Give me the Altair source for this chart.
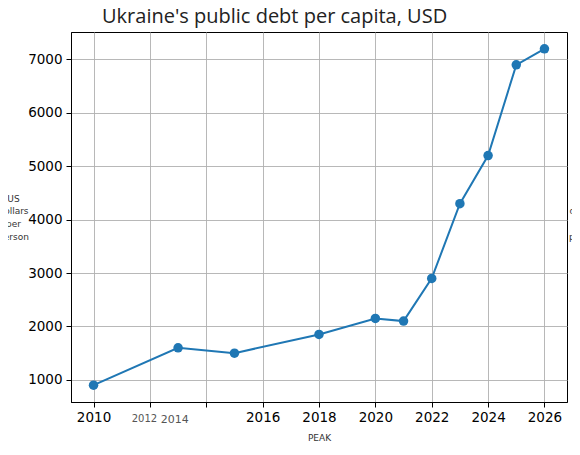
import altair as alt
import pandas as pd

years = [2010, 2013, 2015, 2018, 2020, 2021, 2022, 2023, 2024, 2025, 2026]
debt = [900, 1600, 1500, 1850, 2150, 2100, 2900, 4300, 5200, 6900, 7200]
x_ticks = [2010, 2012, 2014, 2016, 2018, 2020, 2022, 2024, 2026]
y_ticks = [1000, 2000, 3000, 4000, 5000, 6000, 7000]
y_title = ["US", "dollars", "per", "person"]
x_title = "PEAK"
title = "Ukraine's public debt per capita, USD"

df = pd.DataFrame({"year": years, "debt": debt})

blue = "#1f77b4"
grid = "#b0b0b0"

xscale = alt.Scale(domain=[2009.2, 2026.8], nice=False, zero=False)
yscale = alt.Scale(domain=[585, 7515], nice=False, zero=False)

x_axis = alt.Axis(
    values=x_ticks, format="d", title=x_title,
    titleFontSize=9, titleFontWeight="normal", titleColor="#333",
    titleFont="DejaVu Sans", titlePadding=9,
    labelFont="DejaVu Sans",
    labelFontSize={"condition": [
        {"test": "datum.value == 2012", "value": 10},
        {"test": "datum.value == 2014", "value": 11}], "value": 13.5},
    labelColor={"condition": [
        {"test": "datum.value == 2012 || datum.value == 2014", "value": "#555"}],
        "value": "#000"},
    labelOffset={"condition": [
        {"test": "datum.value == 2012", "value": -6},
        {"test": "datum.value == 2014", "value": -32}], "value": 0},
    labelPadding={"condition": [
        {"test": "datum.value == 2012 || datum.value == 2014", "value": 6}],
        "value": 3},
    tickSize=5, tickColor="#000", domainColor="#000",
    gridColor=grid, gridWidth=0.9,
)

y_axis = alt.Axis(
    values=y_ticks, format="d", title=y_title,
    titleFontSize=9, titleFontWeight="normal", titleColor="#333",
    titleFont="DejaVu Sans", titleAngle=0, titleAlign="center",
    titleBaseline="top", titleX=-58, titleY=162, titleLineHeight=12.7,
    labelFont="DejaVu Sans", labelFontSize=13.5, labelColor="#000",
    labelPadding=4, tickSize=5, tickColor="#000", domainColor="#000",
    gridColor=grid, gridWidth=0.9,
)

y_axis_r = alt.Axis(
    orient="right", values=y_ticks, labels=False, ticks=False, domain=False,
    grid=False, title=y_title,
    titleFontSize=9, titleFontWeight="normal", titleColor="#333",
    titleFont="DejaVu Sans", titleAngle=0, titleAlign="center",
    titleBaseline="top", titleX=17, titleY=162, titleLineHeight=12.7,
)

line = alt.Chart(df).mark_line(color=blue, strokeWidth=2).encode(
    x=alt.X("year:Q", scale=xscale, axis=x_axis),
    y=alt.Y("debt:Q", scale=yscale, axis=y_axis),
)

pts = alt.Chart(df).mark_point(filled=True, color=blue, size=90, opacity=1).encode(
    x=alt.X("year:Q", scale=xscale, axis=x_axis),
    y=alt.Y("debt:Q", scale=yscale, axis=y_axis_r),
)

chart = alt.layer(line, pts).resolve_axis(y="independent").properties(
    width=496, height=370,
    autosize=alt.AutoSizeParams(type="none"),
    padding={"left": 63, "top": 24, "right": 5, "bottom": 40},
    background="white",
    title=alt.TitleParams(
        title, font="Open Sans", fontSize=20, fontWeight="normal",
        color="#222", anchor="start", frame="group", dx=31, offset=5,
    ),
).configure_view(stroke="#000", strokeWidth=1)

chart.save("out.html", embed_options={"renderer": "svg", "actions": False})
